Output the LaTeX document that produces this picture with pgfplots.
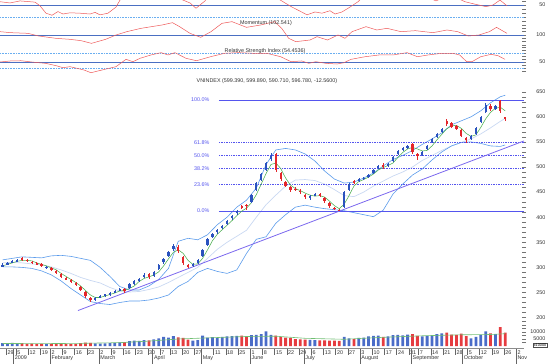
\documentclass[border=0pt]{standalone}
\usepackage{pgfplots}
\pgfplotsset{compat=1.18}
\usepackage{pgfplotstable}
\usepackage{fontspec}
\setmainfont{Liberation Sans}
\newcommand{\lab}{\fontsize{5.4}{6}\selectfont}
\definecolor{cred}{HTML}{E3262B}
\definecolor{cblue}{HTML}{2A52BE}
\definecolor{cgreen}{HTML}{4CAF50}
\definecolor{cband}{HTML}{5B9BEB}
\definecolor{cmid}{HTML}{C9D8F2}
\definecolor{cfib}{HTML}{5555EE}
\definecolor{ctrend}{HTML}{7B68EE}
\definecolor{cind}{HTML}{EE5A5A}
\definecolor{chline}{HTML}{4A6FC2}
\definecolor{cdot}{HTML}{6AAEF0}
\definecolor{ctext}{HTML}{333333}

\pgfplotstableread{
i o h l c v
-1 302 308 300 305 2000
1 306 311 304 309 1800
3 311 315 309 312 2200
5 312 317 310 314 1600
7 318 320 313 316 2000
9 315 317 311 313 1500
11 311 313 307 309 1700
13 308 310 304 306 1400
15 306 308 301 303 1600
17 299 303 297 301 1300
19 298 300 293 295 1500
21 293 294 287 289 1400
23 286 288 279 281 1800
25 279 281 274 276 1500
27 274 276 269 271 1300
29 268 270 262 264 1600
31 261 263 253 255 2000
33 250 252 240 243 2400
35 239 242 232 236 2200
37 236 242 234 240 1800
39 241 245 239 243 1700
41 244 247 242 246 1900
43 246 251 244 249 2100
45 250 255 248 253 2300
47 254 258 252 256 2600
49 257 259 249 252 2800
51 258 268 256 266 3500
53 267 274 265 272 3800
55 274 279 271 277 3600
57 280 288 278 285 4200
59 286 289 276 280 4000
61 283 292 281 290 4800
63 296 306 294 304 5500
65 310 318 307 316 6500
67 322 333 320 331 6000
69 336 346 333 343 7000
71 341 345 328 332 6200
73 320 323 305 309 5800
75 305 307 298 302 4500
77 302 308 300 306 3800
79 309 316 307 314 4200
81 322 337 320 335 7500
83 345 359 343 357 6000
85 360 369 358 367 6300
87 370 377 367 375 5800
89 378 385 376 383 6500
91 387 395 385 393 6800
93 398 405 395 403 7000
95 408 415 405 413 7300
97 422 424 417 420 7500
99 425 427 415 422 7000
101 430 446 428 444 7800
103 455 470 452 468 8000
105 475 488 472 486 8500
107 495 510 492 508 10500
109 515 528 512 522 8000
111 526 528 490 494 7500
113 488 490 472 476 6500
115 470 473 460 463 6000
117 461 463 450 454 5800
119 457 460 452 455 5000
121 453 456 447 450 4800
123 445 447 436 440 4500
125 438 445 435 442 4300
127 444 448 442 445 4200
129 447 449 440 443 4000
131 438 440 429 432 4100
133 428 430 419 422 3900
135 419 421 414 416 3800
137 414 417 412 413 3600
139 420 452 418 450 6500
141 455 468 453 466 5500
143 472 474 466 470 5000
145 474 478 471 476 5800
147 477 481 475 479 6000
149 481 487 479 485 6800
151 488 497 486 495 7200
153 498 505 496 503 7500
155 505 507 497 500 6500
157 502 507 500 505 6800
159 512 522 510 520 7800
161 525 533 523 531 8000
163 534 539 532 537 7600
165 538 544 536 542 8200
167 546 548 525 530 8500
169 526 528 514 522 7200
171 524 532 522 530 6800
173 535 544 533 542 7200
175 550 558 548 556 7800
177 560 567 558 565 8500
179 570 577 568 575 9000
181 592 596 582 585 9500
183 587 589 578 580 8200
185 582 584 573 576 8000
187 574 576 559 562 8800
189 558 560 548 553 7000
191 556 564 554 562 5500
193 566 580 564 578 6500
195 590 602 588 600 8000
197 610 627 608 624 10500
199 622 626 612 615 9000
201 616 623 614 621 8500
203 631 633.5 608 612 13500
205 599.39 599.89 590.71 596.78 9500
}\candles

\pgfplotstableread{
i ma
-1 303
1 306
3 309
5 312
7 314
9 314
11 313
13 309
15 306
17 303
19 299
21 295
23 288
25 282
27 276
29 270
31 263
33 254
35 245
37 240
39 240
41 243
43 246
45 249
47 253
49 254
51 258
53 263
55 272
57 278
59 281
61 285
63 291
65 303
67 317
69 330
71 335
73 328
75 314
77 306
79 307
81 318
83 335
85 353
87 366
89 375
91 384
93 393
95 403
97 412
99 418
101 429
103 445
105 466
107 487
109 505
111 508
113 497
115 478
117 464
119 457
121 453
123 448
125 444
127 442
129 443
131 440
133 432
135 423
137 417
139 426
141 443
143 462
145 471
147 475
149 480
151 486
153 494
155 499
157 503
159 508
161 519
163 529
165 536
167 539
169 536
171 532
173 533
175 542
177 554
179 565
181 576
183 582
185 583
187 577
189 567
191 561
193 564
195 579
197 596
199 609
201 617
203 619
205 612
}\mavg

\pgfplotstableread{
i up mid lo
-1 315 309 301
3 318 310 301
7 321 309 300
11 320 307 298
15 319 305 293
19 323 301 285
23 324 295 273
27 322 288 258
31 318 280 245
35 314 274 232
39 300 269 228
43 282 260 226
47 262 253 230
51 255 251 233
55 255 252 233
59 263 256 235
63 276 261 239
67 298 270 245
71 352 280 262
75 358 290 272
79 355 300 290
83 365 318 298
87 385 336 292
91 400 350 288
95 420 362 295
99 434 374 328
103 458 400 356
107 505 425 361
111 534 444 388
115 537 462 405
119 534 474 420
123 526 475 424
127 512 473 420
131 492 466 417
135 476 455 415
139 468 443 413
143 470 441 409
147 478 450 405
151 488 462 401
155 502 472 414
159 515 482 446
163 523 490 466
167 533 500 484
171 545 513 496
175 556 523 514
179 568 533 530
183 584 542 542
187 592 549 549
191 600 556 550
195 612 566 547
199 628 578 542
203 640 591 541
205 643 597 544
}\bands

\pgfplotstableread{
i vma
-1 1800
15 1700
31 1900
47 2400
59 3500
71 5000
83 5800
99 6800
111 7000
123 5500
139 4800
155 6200
171 7300
187 8000
199 8200
205 8800
}\volma

\pgfplotstableread{
x y
0 58
10 55
20 60
35 57
40 48
46 30
52 25
58 34
63 28
70 31
80 30
90 28
95 32
100 26
108 30
116 45
120 62
125 70
140 75
160 70
180 65
190 55
196 42
205 60
211 75
240 80
270 80
275 70
285 55
292 45
300 35
307 26
315 33
322 30
330 36
335 28
342 33
350 45
358 58
365 75
370 80
410 80
415 68
425 72
436 60
450 75
465 58
475 52
486 46
493 50
500 62
507 48
}\stoch

\pgfplotstableread{
x y
0 105
10.6 103.5
28 102.5
38.7 98.5
56 95
70 93.5
81 91.5
91.5 87.5
105.6 93.5
116 100
126.8 105
141 110
162 115
172.5 118.5
179.6 112.5
190 102.5
200.7 96.5
211 105
222 117.5
232 120
246.5 111.5
260.6 115
274.6 120
281.7 110
288.7 95
295.8 90
310 92.5
317 97.5
327.5 92.5
338 100
345 95
352 105
366 112.5
376.8 107.5
387 110
401 105
415.5 106.5
433 103.5
447 107.5
457.7 105
468.3 98.5
478.9 100
489.4 105
496.5 111.5
507 102.5
}\mom

\pgfplotstableread{
x y
0 50
10.5 51.7
21 52.1
31.6 50
45.6 47.8
56 44
63 40.6
70 42.3
84 36.8
91 32.3
102 36.8
116 42.3
126 54.4
133 50.5
140 56.1
151 61.6
161 65.4
168 61.6
175 65.4
186 56.1
196.5 52.1
210.5 58.7
224.6 64.4
238.6 65.4
252.6 64.4
266.7 64.4
280.7 58.7
291 50.5
301.8 51.7
308.8 47.8
315.8 50.5
326 47.8
337 46.7
343.9 48.8
351 54.4
365 58.7
379 61.6
393 61.6
407 65.4
417.5 58.7
428 61.6
442 64.4
452.6 64.4
459.6 61.6
466.7 50.5
472 50.5
480.7 58.7
491 62.7
498 60.4
505 54.4
}\rsi

\pgfplotsset{
  panel/.style={
    scale only axis, width=524pt, anchor=south west,
    axis x line=none, axis y line*=right,
    y axis line style={draw=none},
    tick align=center, major tick length=4pt, minor tick length=4pt,
    every tick/.style={draw=black!55, line width=0.4pt},
    yticklabel style={font=\lab, text=ctext, anchor=east, inner sep=0pt, xshift=19.5pt},
    /pgf/number format/assume math mode=true,
    clip=true,
  },
  ind/.style={panel, xmin=0, xmax=524},
  dayax/.style={panel, xmin=-2.049, xmax=212.7},
  wick/.style={draw=none, mark=none,
    error bars/y dir=both, error bars/y explicit, error bars/error mark=none,
    error bars/error bar style={draw=#1, line width=0.45pt}},
  body/.style={draw=none, mark=none,
    error bars/y dir=both, error bars/y explicit, error bars/error mark=none,
    error bars/error bar style={draw=#1, line width=2.3pt}},
}

\begin{document}
\begin{tikzpicture}
\useasboundingbox (0,0) rectangle (550pt,-364pt);

% ---------- top oscillator ----------
\begin{axis}[ind, at={(0pt,-20pt)}, height=20pt, ymin=13.4, ymax=62.2,
  ytick={50}, minor ytick={20,30,40,60}]
\addplot[cdot, densely dotted, line width=0.6pt] coordinates {(0,20) (524,20)};
\addplot[chline, line width=0.9pt] coordinates {(0,50) (524,50)};
\addplot[cind, line width=0.5pt] table[x=x,y=y]{\stoch};
\end{axis}

% ---------- momentum ----------
\begin{axis}[ind, at={(0pt,-46pt)}, height=26pt, ymin=83.5, ymax=122.5,
  ytick={100}, minor ytick={85,90,95,105,110,115,120}]
\addplot[chline, line width=0.9pt] coordinates {(0,100) (524,100)};
\addplot[cind, line width=0.5pt] table[x=x,y=y]{\mom};
\node[font=\lab, text=ctext] at (axis cs:266,118.5) {Momentum (102.541)};
\end{axis}

% ---------- RSI ----------
\begin{axis}[ind, at={(0pt,-73pt)}, height=27pt, ymin=31.85, ymax=76.4,
  ytick={50}, minor ytick={35,40,45,55,60,65,70,75}]
\addplot[cdot, densely dotted, line width=0.6pt] coordinates {(0,64.4) (524,64.4)};
\addplot[cdot, densely dotted, line width=0.6pt] coordinates {(0,39.6) (524,39.6)};
\addplot[chline, line width=0.9pt] coordinates {(0,50) (524,50)};
\addplot[cind, line width=0.5pt] table[x=x,y=y]{\rsi};
\node[font=\lab, text=ctext] at (axis cs:265,67.5) {Relative Strength Index (54.4536)};
\end{axis}

% ---------- main price ----------
\begin{axis}[dayax, at={(0pt,-322pt)}, height=249pt, ymin=191.2, ymax=687.3,
  ytick={200,250,...,650}, minor y tick num=4]
\addplot[cmid, line width=0.7pt] table[x=i,y=mid]{\bands};
\addplot[cband, line width=0.6pt] table[x=i,y=up]{\bands};
\addplot[cband, line width=0.6pt] table[x=i,y=lo]{\bands};
% fibonacci levels
\addplot[cfib, line width=0.7pt] coordinates {(87.7,633.5) (212.7,633.5)};
\addplot[cfib, densely dotted, line width=0.7pt] coordinates {(87.7,549.0) (212.7,549.0)};
\addplot[cfib, densely dotted, line width=0.7pt] coordinates {(87.7,522.9) (212.7,522.9)};
\addplot[cfib, densely dotted, line width=0.7pt] coordinates {(87.7,496.8) (212.7,496.8)};
\addplot[cfib, densely dotted, line width=0.7pt] coordinates {(87.7,464.5) (212.7,464.5)};
\addplot[cfib, line width=0.7pt] coordinates {(87.7,412.3) (212.7,412.3)};
% trend line
\addplot[ctrend, line width=0.8pt] coordinates {(29.9,214) (212.7,552)};
% short moving average
\addplot[cgreen, line width=0.55pt] table[x=i,y=ma]{\mavg};
% candles: wicks
\addplot[restrict expr to domain={\thisrow{c}-\thisrow{o}}{0:1000}, wick=cblue]
  table[x=i, y expr={(\thisrow{h}+\thisrow{l})/2}, y error expr={(\thisrow{h}-\thisrow{l})/2}]{\candles};
\addplot[restrict expr to domain={\thisrow{c}-\thisrow{o}}{-1000:-0.001}, wick=cred]
  table[x=i, y expr={(\thisrow{h}+\thisrow{l})/2}, y error expr={(\thisrow{h}-\thisrow{l})/2}]{\candles};
% candles: bodies
\addplot[restrict expr to domain={\thisrow{c}-\thisrow{o}}{0:1000}, body=cblue]
  table[x=i, y expr={(\thisrow{o}+\thisrow{c})/2}, y error expr={max(abs(\thisrow{c}-\thisrow{o}),2)/2}]{\candles};
\addplot[restrict expr to domain={\thisrow{c}-\thisrow{o}}{-1000:-0.001}, body=cred]
  table[x=i, y expr={(\thisrow{o}+\thisrow{c})/2}, y error expr={max(abs(\thisrow{c}-\thisrow{o}),2)/2}]{\candles};
% labels
\node[font=\lab, text=ctext, anchor=west] at (axis cs:77.1,671.9) {VNINDEX (599.390, 599.890, 590.710, 596.780, -12.5600)};
\node[font=\lab, text=cfib, anchor=east] at (axis cs:85.2,633.5) {100.0\%};
\node[font=\lab, text=cfib, anchor=east] at (axis cs:85.2,549.0) {61.8\%};
\node[font=\lab, text=cfib, anchor=east] at (axis cs:85.2,522.9) {50.0\%};
\node[font=\lab, text=cfib, anchor=east] at (axis cs:85.2,496.8) {38.2\%};
\node[font=\lab, text=cfib, anchor=east] at (axis cs:85.2,464.5) {23.6\%};
\node[font=\lab, text=cfib, anchor=east] at (axis cs:85.2,412.3) {0.0\%};
\end{axis}

% ---------- volume ----------
\begin{axis}[dayax, at={(0pt,-346pt)}, height=26pt, ymin=0, ymax=18571,
  ytick={5000,10000}, yticklabels={5000,10000}, scaled y ticks=false,
  minor ytick={2500,7500,12500,15000,17500}]
\addplot[ybar, bar width=2.8pt, bar shift=0pt, fill=cblue!85, draw=none,
  restrict expr to domain={\thisrow{c}-\thisrow{o}}{0:1000}] table[x=i,y=v]{\candles};
\addplot[ybar, bar width=2.8pt, bar shift=0pt, fill=cred!90, draw=none,
  restrict expr to domain={\thisrow{c}-\thisrow{o}}{-1000:-0.001}] table[x=i,y=v]{\candles};
\addplot[cgreen!80, line width=0.6pt] table[x=i,y=vma]{\volma};
\end{axis}
\node[draw=black!70, line width=0.3pt, inner sep=0.6pt, font=\fontsize{3.8}{4}\selectfont] at (540pt,-345pt) {x10000};

% ---------- date axis ----------
\begin{axis}[scale only axis, width=524pt, height=2pt, at={(0pt,-348.5pt)}, anchor=south west,
  xmin=-2.049, xmax=212.7, ymin=0, ymax=1,
  axis y line=none, axis x line*=bottom,
  x axis line style={draw=black!45, line width=0.4pt},
  tick align=outside, major tick length=6pt,
  every tick/.style={draw=black!60, line width=0.4pt},
  xtick={0.5,4.5,9.5,14.5,18.5,23.5,28.5,33.5,38.5,43.5,48.5,53.5,58.5,63.5,67.5,72.5,77.5,85.5,90.5,95.5,100.5,105.5,110.5,115.5,120.5,125.5,130.5,135.5,140.5,145.5,150.5,155.5,160.5,165.5,169.5,174.5,179.5,184.5,189.5,194.5,199.5,204.5,209.5},
  xticklabels={29,5,12,19,2,9,16,23,2,9,16,23,30,7,13,20,27,11,18,25,1,8,15,22,29,6,13,20,27,3,10,17,24,31,7,14,21,28,5,12,19,26,2},
  xticklabel style={font=\lab, text=ctext, anchor=north west, inner sep=0pt, xshift=1.2pt, yshift=4pt},
  extra x ticks={3.5,18.5,38.5,60.5,80.5,100.5,122.5,145.5,166.5,187.5,209.5},
  extra x tick labels={2009,February,March,April,May,June,July,August,September,October,Nov},
  extra x tick style={major tick length=15pt, xticklabel style={yshift=4pt}},
  clip=false]
\addplot[draw=none] coordinates {(0,0) (1,1)};
\end{axis}
\end{tikzpicture}
\end{document}
